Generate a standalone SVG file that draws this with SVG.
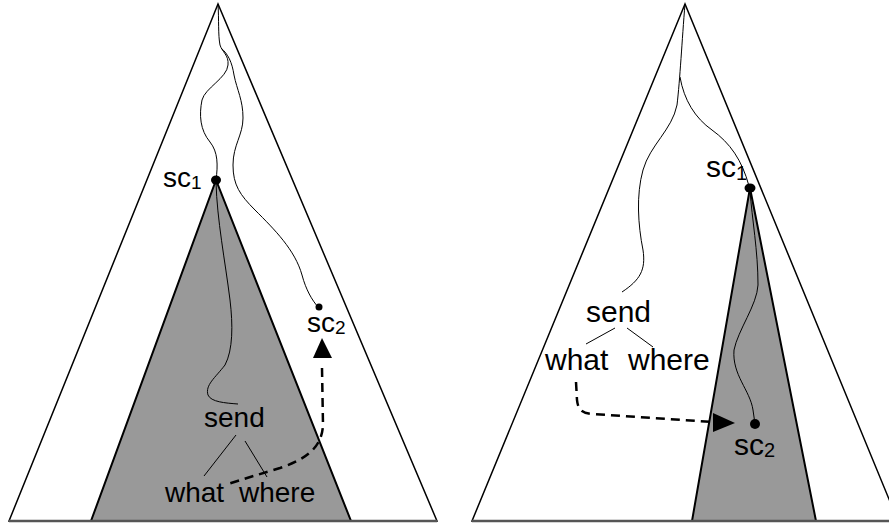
<svg xmlns="http://www.w3.org/2000/svg" width="889" height="523" viewBox="0 0 889 523">
<style>
.outer{fill:#fff;stroke:#000;stroke-width:1.5;stroke-linejoin:miter}
.inner{fill:#999;stroke:#000;stroke-width:2}
.base{stroke:#555;stroke-width:2.5;fill:none}
.wave{fill:none;stroke:#000;stroke-width:1}
.dash{fill:none;stroke:#000;stroke-width:2.5;stroke-dasharray:9 6}
.dot{fill:#000}
.l{font-family:"Liberation Sans",Arial,sans-serif;fill:#000}
.fl{font-size:28px}
.fr{font-size:30px}
.tree{stroke:#000;stroke-width:1;fill:none}
</style>
<rect width="889" height="523" fill="#fff"/>
<g id="left-tree">
<polygon class="outer" points="218,4 9,521 437,521"/>
<polygon class="inner" points="216,180 91,521 351,521"/>
<line class="base" x1="9" y1="521" x2="437" y2="521"/>
</g>
<g id="right-tree">
<polygon class="outer" points="685,4 472,521 898,521"/>
<polygon class="inner" points="750,188 692,521 816,521"/>
<line class="base" x1="472" y1="521" x2="889" y2="521"/>
</g>
<g id="connectors">
<path class="wave" d="M218,4 C219,20 218,35 220,45 C222,52 229,55 228,65 C227,78 205,88 202,100 C199,115 200,130 210,142 C218,152 218,165 216,180"/>
<path class="wave" d="M221,48 C228,54 232,62 234,75 C237,90 243,100 243,118 C243,135 233,145 233,165 C233,185 240,195 255,210 C275,230 295,250 302,275 C306,290 312,300 318,307"/>
<path class="wave" d="M216,182 C217,220 225,260 230,300 C233,325 233,350 225,365 C215,378 205,385 208,395 C211,402 225,403 238,404"/>
<path class="wave" d="M685,4 C682,40 680,80 677,105 C672,130 650,145 643,170 C636,195 638,225 643,250 C646,270 640,280 622,292"/>
<path class="wave" d="M680,77 C684,100 695,118 712,130 C730,143 742,160 749,186"/>
<path class="wave" d="M750,190 C752,220 758,250 758,285 C757,305 738,330 734,350 C732,375 750,390 753,410 L755,424"/>
<line class="tree" x1="236" y1="435" x2="204" y2="476"/>
<line class="tree" x1="245" y1="441" x2="267" y2="477"/>
<line class="tree" x1="615" y1="328" x2="586" y2="344"/>
<line class="tree" x1="627" y1="328" x2="653" y2="347"/>
<path class="dash" d="M322,368 L323,425 C322,445 310,458 280,468 C260,474 240,480 225,485"/>
<polygon class="dot" points="322,338 313,358 332,358"/>
<path class="dash" d="M576,382 L577,400 C578,410 582,413 592,414 L713,422"/>
<polygon class="dot" points="735,423 713,413 713,432"/>
</g>
<g id="sc1-left">
<ellipse class="dot" cx="216" cy="180" rx="5" ry="4.5"/>
<text class="l fl" x="163" y="187">sc<tspan font-size="19" dy="2">1</tspan></text>
</g>
<g id="sc2-left">
<circle class="dot" cx="319" cy="307" r="3.5"/>
<text class="l fl" x="307" y="332">sc<tspan font-size="19" dy="2">2</tspan></text>
</g>
<g id="send-left">
<text class="l fl" x="204" y="427">send</text>
</g>
<g id="what-left"><text class="l fl" x="165" y="502">what</text></g>
<g id="where-left"><text class="l fl" x="239" y="502">where</text></g>
<g id="sc1-right">
<ellipse class="dot" cx="750" cy="188" rx="5.5" ry="4.5"/>
<text class="l fr" x="706" y="177">sc<tspan font-size="20" dy="3">1</tspan></text>
</g>
<g id="sc2-right">
<circle class="dot" cx="755" cy="424" r="5"/>
<text class="l fr" x="734" y="455">sc<tspan font-size="20" dy="2">2</tspan></text>
</g>
<g id="send-right"><text class="l fr" x="586" y="322">send</text></g>
<g id="what-right"><text class="l fr" x="545" y="370">what</text></g>
<g id="where-right"><text class="l fr" x="628" y="370">where</text></g>
</svg>
